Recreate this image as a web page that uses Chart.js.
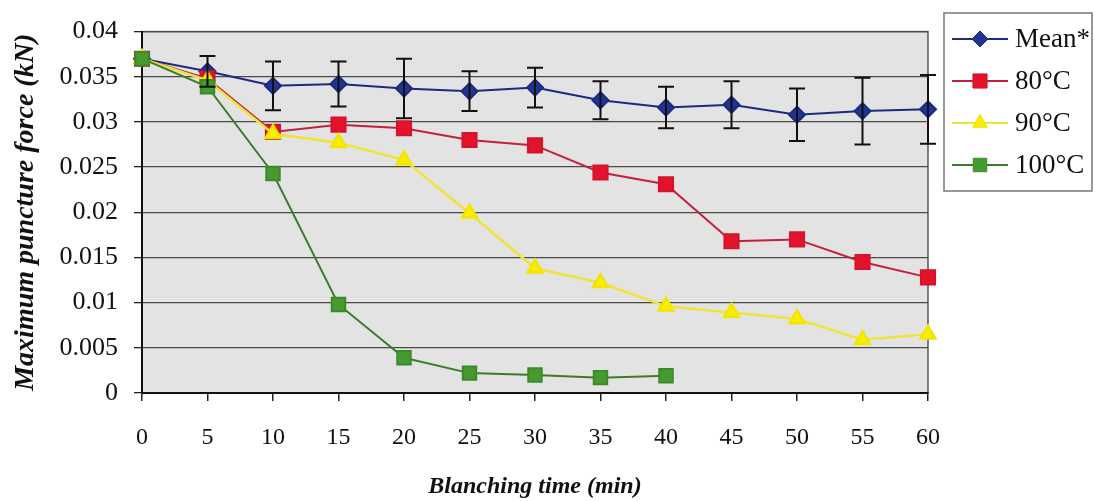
<!DOCTYPE html>
<html>
<head>
<meta charset="utf-8">
<script src="https://cdn.jsdelivr.net/npm/chart.js@4.4.1/dist/chart.umd.min.js"></script>
<style>
  html, body { margin: 0; padding: 0; background: #ffffff; }
  #wrap { width: 1095px; height: 501px; }
</style>
</head>
<body>
<div id="wrap"><canvas id="chart" width="1095" height="501"></canvas></div>
<script>
// values (kN)
const times = ['0', '5', '10', '15', '20', '25', '30', '35', '40', '45', '50', '55', '60'];
const meanForce = [0.0370, 0.0356, 0.0340, 0.0342, 0.0337, 0.0334, 0.0338, 0.0324, 0.0316, 0.0319, 0.0308, 0.0312, 0.0314];
const meanErr = [0, 0.0017, 0.0027, 0.0025, 0.0033, 0.0022, 0.0022, 0.0021, 0.0023, 0.0026, 0.0029, 0.0037, 0.0038];
const force80 = [0.0370, 0.0348, 0.0289, 0.0297, 0.0293, 0.0280, 0.0274, 0.0244, 0.0231, 0.0168, 0.0170, 0.0145, 0.0128];
const force90 = [0.0370, 0.0346, 0.0287, 0.0277, 0.0258, 0.0199, 0.0138, 0.0122, 0.0096, 0.0089, 0.0082, 0.0059, 0.0065];
const force100 = [0.0370, 0.0339, 0.0243, 0.0098, 0.0039, 0.0022, 0.0020, 0.0017, 0.0019];
const seriesNames = ['Mean*', '80°C', '90°C', '100°C'];

const serif = "'Liberation Serif', 'Times New Roman', serif";

// grey plot area with a frame
const plotBackground = {
    id: 'plotBackground',
    beforeDraw(chart) {
        const { ctx, chartArea: a } = chart;
        ctx.save();
        ctx.fillStyle = '#e3e3e3';
        ctx.fillRect(a.left, a.top, a.right - a.left, a.bottom - a.top);
        ctx.strokeStyle = '#555';
        ctx.lineWidth = 1.5;
        ctx.strokeRect(a.left, a.top, a.right - a.left, a.bottom - a.top);
        ctx.restore();
    }
};

// error bars on the mean series
const errorBars = {
    id: 'errorBars',
    afterDatasetsDraw(chart) {
        const { ctx } = chart;
        const x = chart.scales.x, y = chart.scales.y;
        ctx.save();
        ctx.strokeStyle = '#111';
        ctx.lineWidth = 2;
        meanForce.forEach((v, i) => {
            const e = meanErr[i];
            if (!e) return;
            const px = x.getPixelForValue(i);
            const top = y.getPixelForValue(v + e);
            const bot = y.getPixelForValue(v - e);
            ctx.beginPath();
            ctx.moveTo(px, top); ctx.lineTo(px, bot);
            ctx.moveTo(px - 8, top); ctx.lineTo(px + 8, top);
            ctx.moveTo(px - 8, bot); ctx.lineTo(px + 8, bot);
            ctx.stroke();
        });
        ctx.restore();
    }
};

// boxed legend at the right, Excel style
const boxLegend = {
    id: 'boxLegend',
    afterDraw(chart) {
        const { ctx } = chart;
        const left = 944, top = 13, w = 148, h = 178;
        ctx.save();
        ctx.fillStyle = '#fff';
        ctx.fillRect(left, top, w, h);
        ctx.strokeStyle = '#777';
        ctx.lineWidth = 1.5;
        ctx.strokeRect(left, top, w, h);
        chart.data.datasets.forEach((ds, i) => {
            const cy = 39 + i * 42;
            ctx.strokeStyle = ds.borderColor;
            ctx.lineWidth = 2;
            ctx.beginPath();
            ctx.moveTo(952, cy); ctx.lineTo(1008, cy);
            ctx.stroke();
            ctx.fillStyle = ds.pointBackgroundColor;
            ctx.strokeStyle = ds.pointBorderColor;
            ctx.lineWidth = 1;
            Chart.helpers.drawPoint(ctx, {
                pointStyle: ds.pointStyle, radius: ds.pointRadius, rotation: 0, borderWidth: 1
            }, 980, cy);
            ctx.fillStyle = '#111';
            ctx.font = '27px ' + serif;
            ctx.textBaseline = 'middle';
            ctx.fillText(seriesNames[i], 1015, cy + 1);
        });
        ctx.restore();
    }
};

const ctx = document.getElementById('chart').getContext('2d');
new Chart(ctx, {
    type: 'line',
    data: {
        labels: times,
        datasets: [
            { label: seriesNames[0], data: meanForce, order: 3, borderColor: '#1d2a82', borderWidth: 2,
              pointStyle: 'rectRot', pointRadius: 8, pointBackgroundColor: '#1f3590', pointBorderColor: '#1d2a82' },
            { label: seriesNames[1], data: force80, order: 2, borderColor: '#c41f3c', borderWidth: 2,
              pointStyle: 'rect', pointRadius: 10, pointBackgroundColor: '#e2132a', pointBorderColor: '#d2142c' },
            { label: seriesNames[2], data: force90, order: 1, borderColor: '#eee43a', borderWidth: 2.5,
              pointStyle: 'triangle', pointRadius: 8.5, pointBackgroundColor: '#f8ee00', pointBorderColor: '#f2e600' },
            { label: seriesNames[3], data: force100, order: 0, borderColor: '#3c7a2c', borderWidth: 2,
              pointStyle: 'rect', pointRadius: 9.5, pointBackgroundColor: '#479a30', pointBorderColor: '#3a8a2a' },
        ],
    },
    options: {
        responsive: false,
        animation: false,
        layout: { padding: { left: 0, right: 167, top: 29, bottom: 0 } },
        plugins: { legend: { display: false }, tooltip: { enabled: false } },
        elements: { line: { tension: 0 } },
        scales: {
            x: {
                type: 'category',
                offset: false,
                afterFit: (s) => { s.height = 108; },
                grid: { drawOnChartArea: false, drawTicks: true, tickLength: 8, color: '#222', lineWidth: 1.5 },
                border: { color: '#111', width: 2 },
                ticks: { color: '#111', padding: 22, maxRotation: 0, autoSkip: false, font: { family: serif, size: 24 } },
                title: { display: true, text: 'Blanching time (min)', color: '#111', padding: { top: 0, bottom: 0 },
                         font: { family: serif, size: 24, style: 'italic', weight: 'bold' } },
            },
            y: {
                min: 0, max: 0.04,
                afterFit: (s) => { s.width = 142; },
                grid: { color: '#4a4a4a', lineWidth: 1.3, tickLength: 8, tickColor: '#222' },
                border: { color: '#111', width: 2 },
                ticks: { stepSize: 0.005, color: '#111', padding: 16, font: { family: serif, size: 26 },
                         callback: (v) => String(parseFloat(v.toFixed(3))) },
                title: { display: true, text: 'Maximum puncture force (kN)', color: '#111', padding: { top: 9, bottom: 0 },
                         font: { family: serif, size: 28, style: 'italic', weight: 'bold' } },
            },
        },
    },
    plugins: [plotBackground, errorBars, boxLegend],
});
</script>
</body>
</html>
